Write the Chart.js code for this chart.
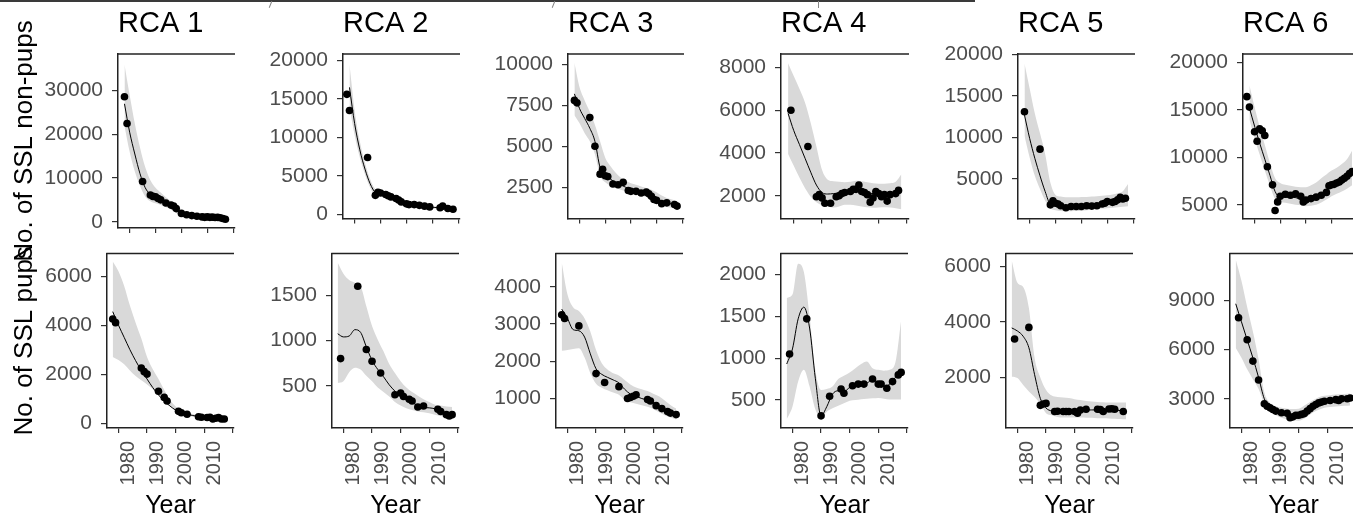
<!DOCTYPE html>
<html>
<head>
<meta charset="utf-8">
<script src="https://cdn.jsdelivr.net/npm/chart.js@4.4.1/dist/chart.umd.min.js"></script>
<style>
  body { margin: 0; width: 1353px; height: 525px; overflow: hidden; background: #fff; position: relative; }
  .panel { position: absolute; }
  #topbar { position: absolute; left: 0; top: 0; width: 975px; height: 2px; background: #3a3a3a; }
  .nick { position: absolute; top: 1px; width: 1px; height: 7px; background: #888; transform: rotate(22deg); }
</style>
</head>
<body>
<div id="topbar"></div>
<div class="nick" style="left:270px"></div>
<div class="nick" style="left:553px"></div>
<div class="nick" style="left:818px; transform:none"></div>
<div id="figure"></div>
<script>
// model grid (fit + ribbon), every 2 years
const modelYears = [1978, 1980, 1982, 1984, 1986, 1988, 1990, 1992, 1994, 1996, 1998, 2000, 2002, 2004, 2006, 2008, 2010, 2012, 2014, 2016, 2018];
const yearTicks = [1980, 1990, 2000, 2010, 2020];

// RCA 1
const rca1AdultYears = [1978, 1979, 1985, 1988, 1989, 1990, 1991, 1992, 1994, 1996, 1997, 1998, 2000, 2002, 2004, 2006, 2008, 2009, 2010, 2011, 2012, 2013, 2014, 2015, 2016, 2017];
const rca1AdultCounts = [28600, 22500, 9200, 6100, 5800, 5700, 5300, 5000, 4300, 3800, 3600, 3000, 1900, 1600, 1400, 1250, 1100, 1000, 1100, 1000, 1050, 950, 1000, 900, 750, 550];
const rca1AdultFit = [27000, 20500, 15500, 11000, 7800, 6200, 5400, 4800, 4200, 3600, 2700, 1900, 1550, 1400, 1250, 1100, 1050, 1000, 950, 800, 600];
const rca1AdultLo = [22000, 16000, 11500, 8200, 5800, 4700, 4200, 3800, 3300, 2800, 2000, 1400, 1150, 1050, 950, 850, 800, 750, 700, 550, 350];
const rca1AdultHi = [36000, 29000, 22500, 17000, 12500, 9500, 7800, 6700, 5600, 4700, 3600, 2600, 2000, 1800, 1600, 1450, 1400, 1350, 1300, 1200, 1100];
const rca1AdultTicks = [0, 10000, 20000, 30000];

const rca1PupYears = [1978, 1979, 1988, 1989, 1990, 1994, 1996, 1997, 2001, 2002, 2004, 2008, 2009, 2011, 2012, 2013, 2014, 2015, 2016, 2017];
const rca1PupCounts = [4250, 4100, 2250, 2100, 2000, 1300, 1050, 900, 480, 420, 360, 260, 240, 230, 240, 170, 200, 230, 170, 170];
const rca1PupFit = [4550, 4000, 3500, 3000, 2550, 2150, 1800, 1450, 1150, 900, 700, 530, 430, 360, 310, 270, 240, 220, 200, 185, 170];
const rca1PupLo = [2700, 2580, 2400, 2150, 1920, 1750, 1580, 1380, 1150, 950, 720, 520, 400, 320, 260, 230, 200, 180, 160, 140, 120];
const rca1PupHi = [6600, 6200, 5600, 4800, 4100, 3450, 2700, 2200, 1800, 1350, 950, 680, 520, 430, 370, 320, 290, 270, 250, 240, 230];
const rca1PupTicks = [0, 2000, 4000, 6000];

// RCA 2
const rca2AdultYears = [1977, 1978, 1985, 1988, 1989, 1990, 1992, 1993, 1994, 1996, 1997, 1998, 2000, 2001, 2003, 2005, 2007, 2009, 2013, 2014, 2016, 2018];
const rca2AdultCounts = [15600, 13500, 7400, 2500, 2900, 2800, 2600, 2450, 2300, 2100, 1900, 1650, 1400, 1300, 1300, 1200, 1100, 1000, 900, 1100, 800, 700];
const rca2AdultFit = [16500, 11800, 8400, 5900, 4000, 2900, 2750, 2550, 2250, 2000, 1700, 1420, 1300, 1220, 1150, 1050, 960, 910, 950, 850, 720];
const rca2AdultLo = [14000, 10300, 7400, 5200, 3500, 2550, 2450, 2280, 2000, 1780, 1500, 1230, 1120, 1050, 990, 900, 810, 760, 790, 700, 570];
const rca2AdultHi = [19500, 13500, 9500, 6700, 4600, 3300, 3050, 2830, 2500, 2230, 1910, 1610, 1480, 1400, 1320, 1210, 1120, 1070, 1120, 1010, 880];
const rca2AdultTicks = [0, 5000, 10000, 15000, 20000];

const rca2PupYears = [1979, 1985, 1988, 1990, 1993, 1998, 2000, 2001, 2003, 2004, 2006, 2008, 2013, 2014, 2016, 2017, 2018];
const rca2PupCounts = [800, 1600, 900, 770, 640, 400, 420, 380, 350, 330, 265, 275, 240, 215, 180, 165, 180];
const rca2PupFit = [1075, 1040, 1050, 1120, 1090, 930, 780, 680, 600, 510, 440, 380, 340, 315, 280, 260, 255, 245, 225, 190, 170];
const rca2PupLo = [530, 550, 650, 700, 680, 610, 550, 480, 430, 380, 320, 280, 250, 230, 215, 205, 195, 180, 165, 150, 135];
const rca2PupHi = [1860, 1740, 1670, 1640, 1600, 1380, 1160, 1010, 880, 740, 640, 550, 480, 430, 390, 350, 320, 290, 280, 270, 265];
const rca2PupTicks = [500, 1000, 1500];

// RCA 3
const rca3AdultYears = [1978, 1979, 1984, 1986, 1988, 1989, 1990, 1991, 1993, 1995, 1997, 1999, 2000, 2002, 2004, 2006, 2007, 2008, 2009, 2010, 2012, 2014, 2017, 2018];
const rca3AdultCounts = [7800, 7650, 6750, 5000, 3300, 3600, 3200, 3150, 2700, 2650, 2800, 2300, 2250, 2250, 2150, 2200, 2100, 1950, 1750, 1700, 1500, 1550, 1450, 1350];
const rca3AdultFit = [8200, 7300, 6700, 6100, 5300, 3700, 3250, 3000, 2800, 2650, 2500, 2400, 2300, 2250, 2150, 2050, 1850, 1650, 1550, 1480, 1400];
const rca3AdultLo = [6900, 6400, 5800, 5300, 4500, 3200, 2800, 2600, 2450, 2350, 2250, 2150, 2050, 1980, 1900, 1750, 1550, 1400, 1300, 1250, 1150];
const rca3AdultHi = [10100, 8600, 7800, 7100, 6300, 5300, 4300, 3800, 3400, 3100, 2900, 2750, 2650, 2550, 2450, 2350, 2200, 2000, 1850, 1750, 1650];
const rca3AdultTicks = [2500, 5000, 7500, 10000];

const rca3PupYears = [1978, 1979, 1984, 1990, 1993, 1998, 2001, 2002, 2003, 2004, 2008, 2009, 2011, 2013, 2015, 2016, 2018];
const rca3PupCounts = [3250, 3150, 2950, 1670, 1430, 1320, 1000, 1030, 1060, 1100, 975, 935, 810, 730, 650, 610, 570];
const rca3PupFit = [3400, 3150, 2850, 2820, 2650, 2200, 1800, 1650, 1570, 1500, 1420, 1250, 1120, 1060, 1000, 960, 890, 790, 700, 630, 570];
const rca3PupLo = [2280, 2300, 2330, 2350, 2100, 1680, 1400, 1290, 1220, 1160, 1100, 960, 900, 860, 820, 780, 720, 630, 550, 490, 440];
const rca3PupHi = [4650, 3800, 3450, 3350, 3150, 2800, 2300, 1950, 1780, 1680, 1620, 1500, 1380, 1300, 1250, 1200, 1130, 1060, 950, 830, 730];
const rca3PupTicks = [1000, 2000, 3000, 4000];

// RCA 4
const rca4AdultYears = [1979, 1985, 1988, 1989, 1990, 1991, 1993, 1995, 1996, 1997, 1998, 2000, 2001, 2002, 2003, 2004, 2005, 2006, 2007, 2008, 2009, 2010, 2011, 2012, 2013, 2014, 2016, 2017];
const rca4AdultCounts = [6000, 4300, 1950, 2050, 1900, 1650, 1650, 1950, 2000, 2100, 2150, 2200, 2300, 2300, 2500, 2200, 2150, 2050, 1700, 1900, 2200, 2100, 1950, 2050, 1750, 2050, 2100, 2250];
const rca4AdultFit = [5850, 5050, 4400, 3750, 3100, 2500, 2150, 2080, 2100, 2130, 2170, 2220, 2250, 2220, 2150, 2100, 2120, 2120, 2130, 2170, 2250];
const rca4AdultLo = [3950, 3400, 2850, 2350, 1950, 1700, 1560, 1500, 1450, 1500, 1580, 1580, 1540, 1500, 1460, 1440, 1450, 1460, 1450, 1420, 1370];
const rca4AdultHi = [8200, 7600, 7000, 6350, 5400, 4300, 3200, 2750, 2680, 2650, 2630, 2650, 2700, 2680, 2630, 2580, 2560, 2560, 2580, 2650, 3000];
const rca4AdultTicks = [2000, 4000, 6000, 8000];

const rca4PupYears = [1979, 1985, 1990, 1993, 1997, 1998, 2001, 2003, 2005, 2008, 2010, 2011, 2013, 2015, 2017, 2018];
const rca4PupCounts = [1050, 1470, 310, 545, 630, 580, 670, 690, 690, 750, 690, 690, 640, 720, 800, 830];
const rca4PupFit = [930, 1110, 1470, 1610, 1360, 760, 310, 420, 570, 610, 600, 650, 680, 690, 700, 745, 700, 660, 690, 770, 840];
const rca4PupLo = [270, 420, 720, 860, 660, 390, 290, 360, 400, 430, 460, 490, 500, 510, 515, 520, 525, 515, 505, 505, 505];
const rca4PupHi = [1720, 1760, 2130, 2030, 1500, 860, 620, 630, 660, 750, 790, 830, 880, 930, 960, 880, 860, 850, 860, 950, 1450];
const rca4PupTicks = [500, 1000, 1500, 2000];

// RCA 5
const rca5AdultYears = [1978, 1984, 1988, 1989, 1990, 1991, 1992, 1994, 1996, 1998, 2000, 2002, 2004, 2006, 2008, 2009, 2010, 2012, 2013, 2014, 2015, 2016, 2017];
const rca5AdultCounts = [13100, 8600, 1900, 2400, 2100, 2000, 1800, 1550, 1700, 1700, 1700, 1800, 1750, 1800, 2000, 2100, 2300, 2200, 2300, 2500, 2800, 2600, 2700];
const rca5AdultFit = [12700, 9900, 7500, 5400, 3500, 2000, 1900, 1750, 1620, 1620, 1650, 1680, 1720, 1780, 1880, 2000, 2150, 2300, 2450, 2600, 2700];
const rca5AdultLo = [10200, 7600, 5400, 3800, 2400, 1500, 1250, 1150, 1130, 1130, 1150, 1200, 1250, 1300, 1380, 1450, 1500, 1550, 1620, 1680, 1720];
const rca5AdultHi = [18900, 15900, 12900, 10500, 8000, 4600, 3100, 2900, 2800, 2800, 2800, 2850, 2850, 2900, 2950, 3000, 3050, 3150, 3300, 3550, 4400];
const rca5AdultTicks = [5000, 10000, 15000, 20000];

const rca5PupYears = [1979, 1984, 1988, 1989, 1990, 1993, 1994, 1996, 1997, 1998, 2000, 2001, 2002, 2004, 2008, 2009, 2010, 2012, 2013, 2014, 2017];
const rca5PupCounts = [3380, 3800, 1000, 1050, 1070, 780, 790, 780, 780, 780, 780, 720, 830, 860, 860, 850, 780, 870, 880, 860, 780];
const rca5PupFit = [3780, 3670, 3480, 3070, 2100, 1250, 900, 800, 780, 780, 790, 800, 820, 830, 835, 835, 830, 830, 830, 810, 780];
const rca5PupLo = [2030, 1980, 1730, 1500, 1300, 1050, 720, 640, 580, 560, 560, 560, 560, 555, 550, 540, 535, 530, 520, 510, 500];
const rca5PupHi = [6200, 5400, 5250, 4500, 2700, 2000, 1550, 1350, 1300, 1280, 1260, 1220, 1190, 1160, 1140, 1120, 1110, 1100, 1100, 1100, 1100];
const rca5PupTicks = [2000, 4000, 6000];

// RCA 6
const rca6AdultYears = [1977, 1978, 1980, 1981, 1982, 1983, 1984, 1985, 1987, 1988, 1989, 1990, 1992, 1994, 1996, 1998, 1999, 2000, 2002, 2004, 2006, 2008, 2009, 2010, 2011, 2012, 2013, 2014, 2015, 2016, 2017, 2018];
const rca6AdultCounts = [16400, 15300, 12700, 11700, 13000, 12800, 12300, 9000, 7100, 4400, 5300, 5900, 6100, 6000, 6150, 5900, 5300, 5500, 5650, 5800, 6000, 6300, 7000, 7100, 7150, 7300, 7400, 7600, 7800, 8000, 8300, 8500];
const rca6AdultFit = [15200, 13300, 11500, 9800, 8100, 6400, 5800, 5800, 5800, 5750, 5600, 5500, 5700, 5850, 6050, 6500, 7050, 7350, 7650, 8050, 8450];
const rca6AdultLo = [14000, 12000, 10300, 8600, 7000, 5600, 5300, 5200, 5100, 5000, 4950, 4850, 4900, 5000, 5250, 5550, 5900, 6150, 6400, 6700, 7050];
const rca6AdultHi = [17600, 15300, 13200, 11300, 9400, 7800, 7300, 7100, 7000, 6900, 6850, 6850, 7050, 7350, 7800, 8200, 8600, 8900, 9300, 9800, 10700];
const rca6AdultTicks = [5000, 10000, 15000, 20000];

const rca6PupYears = [1979, 1982, 1984, 1986, 1988, 1989, 1990, 1991, 1992, 1994, 1996, 1997, 1998, 1999, 2000, 2001, 2002, 2003, 2004, 2005, 2006, 2007, 2008, 2009, 2011, 2013, 2014, 2015, 2017, 2018];
const rca6PupCounts = [7950, 6600, 5300, 4150, 2700, 2550, 2450, 2350, 2250, 2150, 2120, 1850, 1900, 2000, 2000, 2050, 2100, 2250, 2400, 2550, 2650, 2750, 2800, 2850, 2900, 2950, 2900, 3000, 3000, 3050];
const rca6PupFit = [8800, 7700, 6600, 5500, 4300, 3000, 2500, 2250, 2100, 2000, 1930, 1980, 2150, 2400, 2620, 2770, 2850, 2900, 2930, 2970, 3000];
const rca6PupLo = [6100, 5500, 4800, 4200, 3600, 2700, 2250, 2000, 1850, 1750, 1690, 1660, 1800, 2050, 2250, 2400, 2480, 2520, 2550, 2570, 2590];
const rca6PupHi = [11500, 10200, 8600, 7100, 5400, 3400, 2750, 2550, 2450, 2400, 2380, 2400, 2600, 2800, 3000, 3150, 3200, 3250, 3280, 3300, 3330];
const rca6PupTicks = [3000, 6000, 9000];

Chart.defaults.font.family = '"Liberation Sans", Arial, sans-serif';
Chart.defaults.animation = false;

// panel boxes (plot area, page pixels) and y axis ranges
const panels = [
  {title: 'RCA 1', row: 0, col: 0, L: 118, R: 235, yMin: -1440, yMax: 38400, ticks: rca1AdultTicks, yrs: rca1AdultYears, obs: rca1AdultCounts, fit: rca1AdultFit, lo: rca1AdultLo, hi: rca1AdultHi},
  {title: 'RCA 2', row: 0, col: 1, L: 343, R: 460, yMin: -490, yMax: 20830, ticks: rca2AdultTicks, yrs: rca2AdultYears, obs: rca2AdultCounts, fit: rca2AdultFit, lo: rca2AdultLo, hi: rca2AdultHi},
  {title: 'RCA 3', row: 0, col: 2, L: 568, R: 684, yMin: 600, yMax: 10630, ticks: rca3AdultTicks, yrs: rca3AdultYears, obs: rca3AdultCounts, fit: rca3AdultFit, lo: rca3AdultLo, hi: rca3AdultHi},
  {title: 'RCA 4', row: 0, col: 3, L: 781, R: 909, yMin: 940, yMax: 8630, ticks: rca4AdultTicks, yrs: rca4AdultYears, obs: rca4AdultCounts, fit: rca4AdultFit, lo: rca4AdultLo, hi: rca4AdultHi},
  {title: 'RCA 5', row: 0, col: 4, L: 1018, R: 1135, yMin: 270, yMax: 20050, ticks: rca5AdultTicks, yrs: rca5AdultYears, obs: rca5AdultCounts, fit: rca5AdultFit, lo: rca5AdultLo, hi: rca5AdultHi},
  {title: 'RCA 6', row: 0, col: 5, L: 1243, R: 1359, yMin: 3560, yMax: 20900, ticks: rca6AdultTicks, yrs: rca6AdultYears, obs: rca6AdultCounts, fit: rca6AdultFit, lo: rca6AdultLo, hi: rca6AdultHi},
  {row: 1, col: 0, L: 107, R: 234, yMin: -200, yMax: 6920, ticks: rca1PupTicks, yrs: rca1PupYears, obs: rca1PupCounts, fit: rca1PupFit, lo: rca1PupLo, hi: rca1PupHi},
  {row: 1, col: 1, L: 332, R: 459, yMin: 32, yMax: 1962, ticks: rca2PupTicks, yrs: rca2PupYears, obs: rca2PupCounts, fit: rca2PupFit, lo: rca2PupLo, hi: rca2PupHi},
  {row: 1, col: 2, L: 556, R: 683, yMin: 210, yMax: 4890, ticks: rca3PupTicks, yrs: rca3PupYears, obs: rca3PupCounts, fit: rca3PupFit, lo: rca3PupLo, hi: rca3PupHi},
  {row: 1, col: 3, L: 781, R: 908, yMin: 165, yMax: 2250, ticks: rca4PupTicks, yrs: rca4PupYears, obs: rca4PupCounts, fit: rca4PupFit, lo: rca4PupLo, hi: rca4PupHi},
  {row: 1, col: 4, L: 1006, R: 1133, yMin: 186, yMax: 6450, ticks: rca5PupTicks, yrs: rca5PupYears, obs: rca5PupCounts, fit: rca5PupFit, lo: rca5PupLo, hi: rca5PupHi},
  {row: 1, col: 5, L: 1230, R: 1357, yMin: 1220, yMax: 11860, ticks: rca6PupTicks, yrs: rca6PupYears, obs: rca6PupCounts, fit: rca6PupFit, lo: rca6PupLo, hi: rca6PupHi}
];

const toPts = (xs, ys) => xs.map((x, i) => ({x: x, y: ys[i]}));

// ggplot-like frame: line along the top of the panel
const topFrame = {
  id: 'topFrame',
  afterDraw(chart) {
    const {ctx, chartArea: a} = chart;
    ctx.save();
    ctx.strokeStyle = '#222';
    ctx.lineWidth = 1.5;
    ctx.beginPath();
    ctx.moveTo(a.left - 0.75, a.top);
    ctx.lineTo(a.right, a.top);
    ctx.stroke();
    ctx.restore();
  }
};

const fig = document.getElementById('figure');

panels.forEach(p => {
  const top = p.row === 0;
  const first = p.col === 0;
  const cLeft = first ? 0 : p.L - 100;
  const cTop = top ? 0 : 232;
  const cH = top ? (first ? 272 : 240) : 525 - 232;
  const plotB = top ? 228 : 428;
  const padR = 40;
  const xH = top ? 8 : 525 - 428;
  const padB = cH - (plotB - cTop) - xH;

  const box = document.createElement('div');
  box.className = 'panel';
  box.style.left = cLeft + 'px';
  box.style.top = cTop + 'px';
  box.style.width = (p.R - cLeft + padR) + 'px';
  box.style.height = cH + 'px';
  const canvas = document.createElement('canvas');
  box.appendChild(canvas);
  fig.appendChild(box);

  const titleSize = 29;
  new Chart(canvas, {
    type: 'line',
    data: {
      datasets: [
        {data: toPts(modelYears, p.lo), borderWidth: 0, pointRadius: 0, fill: false, cubicInterpolationMode: 'monotone', order: 3},
        {data: toPts(modelYears, p.hi), borderWidth: 0, pointRadius: 0, fill: '-1', backgroundColor: '#d9d9d9', cubicInterpolationMode: 'monotone', order: 2},
        {data: toPts(modelYears, p.fit), borderColor: '#000', borderWidth: 1, pointRadius: 0, cubicInterpolationMode: 'monotone', order: 1},
        {data: toPts(p.yrs, p.obs), showLine: false, pointRadius: 3.8, pointBackgroundColor: '#000', pointBorderWidth: 0, order: 0}
      ]
    },
    options: {
      responsive: true,
      maintainAspectRatio: false,
      events: [],
      layout: {padding: {left: 0, right: padR, top: top ? 0 : 5, bottom: padB}},
      plugins: {
        legend: {display: false},
        tooltip: {enabled: false},
        title: {
          display: top,
          text: p.title || '',
          align: 'start',
          fullSize: false,
          color: '#000',
          font: {size: titleSize, weight: 'normal'},
          padding: {top: 7, bottom: 54 - 7 - titleSize * 1.2}
        }
      },
      scales: {
        x: {
          type: 'linear',
          min: top ? 1975.5 : 1976,
          max: top ? 2020.7 : 2020.4,
          afterFit: s => { s.height = xH; },
          afterBuildTicks: s => { s.ticks = yearTicks.map(v => ({value: v})); },
          border: {display: true, color: '#222', width: 1.5},
          grid: {drawOnChartArea: false, drawTicks: true, tickLength: 5, color: '#333', lineWidth: 1.2},
          ticks: {
            display: !top, autoSkip: false,
            minRotation: 90, maxRotation: 90, labelOffset: 10, padding: 8,
            color: '#4d4d4d', font: {size: 20},
            callback: v => (v === 2020 ? '' : String(v))
          },
          title: {display: !top, text: 'Year', color: '#000', font: {size: 25}, padding: {top: 0, bottom: 4}}
        },
        y: {
          min: p.yMin,
          max: p.yMax,
          afterFit: s => { s.width = p.L - cLeft; },
          afterBuildTicks: s => { s.ticks = p.ticks.map(v => ({value: v})); },
          border: {display: true, color: '#222', width: 1.5},
          grid: {drawOnChartArea: false, drawTicks: true, tickLength: 6, color: '#333', lineWidth: 1.2},
          ticks: {padding: 9, color: '#4d4d4d', font: {size: 21}, callback: v => String(v)},
          title: {
            display: first,
            text: top ? 'No. of SSL non-pups' : 'No. of SSL pups',
            color: '#000', font: {size: 26}, padding: {top: 9.4, bottom: 0}
          }
        }
      }
    },
    plugins: [topFrame]
  });
});
</script>
</body>
</html>
